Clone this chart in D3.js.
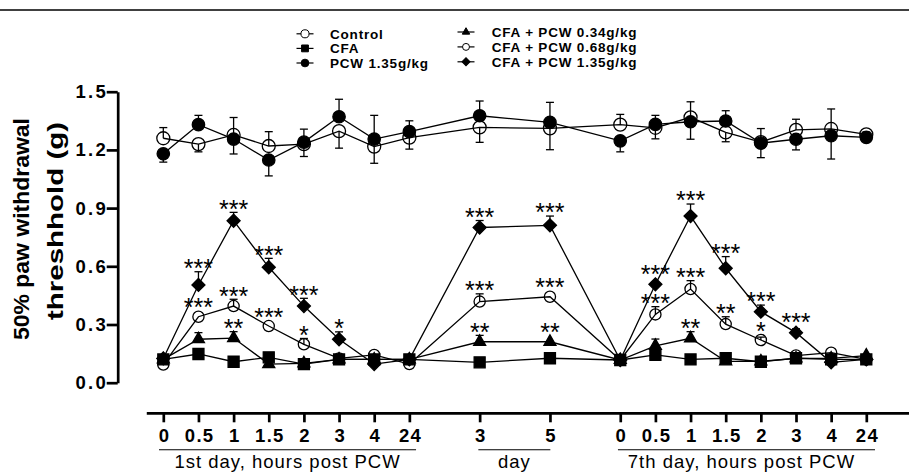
<!DOCTYPE html>
<html>
<head>
<meta charset="utf-8">
<script src="https://cdn.jsdelivr.net/npm/d3@7"></script>
<style>
body { margin: 0; background: #fff; }
text { font-family: "Liberation Sans", Arial, sans-serif; fill: #000; }
</style>
</head>
<body>
<svg id="chart" width="909" height="473"></svg>
<script>
// x categories: tick labels and their slot on the x axis (gaps between groups)
const tickLabels = ['0', '0.5', '1', '1.5', '2', '3', '4', '24', '3', '5', '0', '0.5', '1', '1.5', '2', '3', '4', '24'];
const tickSlots = [0, 1, 2, 3, 4, 5, 6, 7, 9, 11, 13, 14, 15, 16, 17, 18, 19, 20];

const groupLabels = ['1st day, hours post PCW', 'day', '7th day, hours post PCW'];
const groupFrom = [0, 9, 13];
const groupTo = [7, 11, 20];

const yTicks = [0, 0.3, 0.6, 0.9, 1.2, 1.5];

const seriesNames = ['Control', 'CFA', 'PCW 1.35g/kg', 'CFA + PCW 0.34g/kg', 'CFA + PCW 0.68g/kg', 'CFA + PCW 1.35g/kg'];

// means, SEM and side of the error bar (1 = up, -1 = down)
const controlMean = [1.26, 1.23, 1.277, 1.22, 1.23, 1.297, 1.217, 1.263, 1.316, 1.311, 1.33, 1.314, 1.368, 1.29, 1.24, 1.303, 1.308, 1.28];
const controlErr  = [0.055, 0.04, 0.09, 0.074, 0.064, 0.088, 0.086, 0.059, 0.077, 0.11, 0.053, 0.057, 0.08, 0.048, 0.07, 0.055, 0.103, 0.012];
const controlSide = [1, -1, 1, 1, -1, -1, -1, -1, -1, -1, 1, -1, 1, -1, 1, 1, 1, 1];

const cfaMean = [0.12, 0.148, 0.108, 0.131, 0.096, 0.12, 0.12, 0.12, 0.105, 0.126, 0.117, 0.143, 0.12, 0.126, 0.108, 0.126, 0.12, 0.12];
const cfaErr  = [0, 0, 0, 0, 0, 0, 0, 0, 0, 0, 0, 0, 0, 0, 0, 0, 0, 0];

const pcwMean = [1.18, 1.33, 1.256, 1.148, 1.24, 1.371, 1.256, 1.294, 1.376, 1.342, 1.247, 1.332, 1.345, 1.349, 1.235, 1.255, 1.273, 1.265];
const pcwErr  = [0.043, 0.048, 0.077, 0.082, 0.067, 0.09, 0.122, 0.056, 0.076, 0.103, 0.057, 0.046, 0.09, 0.053, 0.075, 0.055, 0.12, 0.02];
const pcwSide = [-1, 1, -1, -1, 1, 1, 1, 1, 1, 1, -1, 1, -1, 1, -1, -1, -1, -1];

const low034Mean = [0.12, 0.224, 0.23, 0.096, 0.1, 0.12, 0.12, 0.12, 0.211, 0.211, 0.117, 0.19, 0.229, 0.11, 0.11, 0.125, 0.125, 0.14];
const low034Err  = [0, 0.034, 0.033, 0, 0, 0, 0, 0, 0.033, 0, 0, 0.035, 0.034, 0, 0, 0, 0, 0];

const low068Mean = [0.094, 0.34, 0.395, 0.292, 0.198, 0.125, 0.143, 0.096, 0.418, 0.443, 0.117, 0.352, 0.483, 0.302, 0.22, 0.14, 0.155, 0.12];
const low068Err  = [0, 0, 0.035, 0, 0.03, 0, 0, 0, 0.04, 0, 0, 0.04, 0.043, 0.038, 0.015, 0, 0, 0];

const low135Mean = [0.125, 0.504, 0.835, 0.595, 0.395, 0.224, 0.096, 0.12, 0.8, 0.811, 0.117, 0.507, 0.859, 0.59, 0.366, 0.258, 0.105, 0.12];
const low135Err  = [0, 0.068, 0.043, 0.046, 0.04, 0.038, 0, 0, 0.036, 0.048, 0, 0, 0.062, 0.06, 0.034, 0.02, 0, 0];

// significance marks
const stars034 = ['', '', '**', '', '', '', '', '', '**', '**', '', '', '**', '', '', '', '', ''];
const stars068 = ['', '***', '***', '***', '*', '', '', '', '***', '***', '', '***', '***', '**', '*', '', '', ''];
const stars135 = ['', '***', '***', '***', '***', '*', '', '', '***', '***', '', '***', '***', '***', '***', '***', '', ''];

const svg = d3.select('#chart');
const width = +svg.attr('width');

const x = d3.scaleLinear().domain([0, 20]).range([163.3, 866.3]);
const y = d3.scaleLinear().domain([0, 1.5]).range([382.7, 91.7]);

const series = [
	{ name: seriesNames[0], mean: controlMean, err: controlErr, side: controlSide, shape: 'circle', filled: false, size: 6.5, stars: null },
	{ name: seriesNames[1], mean: cfaMean, err: cfaErr, side: null, shape: 'square', filled: true, size: 11, stars: null },
	{ name: seriesNames[2], mean: pcwMean, err: pcwErr, side: pcwSide, shape: 'circle', filled: true, size: 6.2, stars: null },
	{ name: seriesNames[3], mean: low034Mean, err: low034Err, side: null, shape: 'triangle', filled: true, size: 12, stars: stars034 },
	{ name: seriesNames[4], mean: low068Mean, err: low068Err, side: null, shape: 'circle', filled: false, size: 5.6, stars: stars068 },
	{ name: seriesNames[5], mean: low135Mean, err: low135Err, side: null, shape: 'diamond', filled: true, size: 13, stars: stars135 }
];

// marker path + rotation for a shape of a given size
const markerPath = (shape, size) => {
	if (shape === 'circle') return d3.symbol(d3.symbolCircle, Math.PI * size * size)();
	if (shape === 'square') return d3.symbol(d3.symbolSquare, size * size)();
	if (shape === 'triangle') return d3.symbol(d3.symbolTriangle, Math.sqrt(3) / 4 * size * size)();
	// diamond: square turned 45 degrees, size = diagonal
	return d3.symbol(d3.symbolSquare, size * size / 2)();
};
const markerRotate = shape => shape === 'diamond' ? ' rotate(45)' : '';
const markerHalf = s => s.shape === 'circle' ? s.size : s.size / 2;

// top rule
svg.append('line')
	.attr('x1', 0).attr('x2', width)
	.attr('y1', 10).attr('y2', 10)
	.attr('stroke', '#000').attr('stroke-width', 1.6);

// legend
const legendX = [305, 466];
const legendTextX = [330, 491.7];
const legendTop = [38.6, 36.8];
const legendStep = [14.6, 14.9];
const legend = svg.append('g').attr('class', 'legend');
series.forEach((s, i) => {
	const col = i < 3 ? 0 : 1;
	const row = i % 3;
	const base = legendTop[col] + row * legendStep[col];
	const cy = base - 4.8;
	legend.append('line')
		.attr('x1', legendX[col] - 8.5).attr('x2', legendX[col] + 8.5)
		.attr('y1', cy).attr('y2', cy)
		.attr('stroke', '#000').attr('stroke-width', 1.2);
	legend.append('path')
		.attr('d', markerPath(s.shape, s.size * 0.62))
		.attr('transform', `translate(${legendX[col]},${cy})${markerRotate(s.shape)}`)
		.attr('fill', s.filled ? '#000' : '#fff')
		.attr('stroke', '#000').attr('stroke-width', 1);
	legend.append('text')
		.attr('x', legendTextX[col]).attr('y', base)
		.attr('font-size', 13.5).attr('font-weight', 'bold')
		.attr('letter-spacing', 0.8)
		.text(s.name);
});

// y axis
const yAxis = d3.axisLeft(y)
	.tickValues(yTicks)
	.tickFormat(d3.format('.1f'))
	.tickSize(11)
	.tickSizeOuter(0)
	.tickPadding(1);
const yAxisG = svg.append('g')
	.attr('class', 'y-axis')
	.attr('transform', 'translate(117.7,0)')
	.call(yAxis);
yAxisG.selectAll('path, line').attr('stroke', '#000').attr('stroke-width', 2.7);
yAxisG.selectAll('text')
	.attr('font-family', '"Liberation Sans", Arial, sans-serif')
	.attr('font-size', 18.5).attr('font-weight', 'bold')
	.attr('letter-spacing', 2.2)
	.attr('dx', 2.2)
	.attr('fill', '#000');

// y axis title
const yTitle = svg.append('g').attr('class', 'axis-label');
yTitle.append('text')
	.attr('transform', 'translate(29,229) rotate(-90)')
	.attr('text-anchor', 'middle')
	.attr('font-size', 22.5).attr('font-weight', 'bold')
	.attr('textLength', 222).attr('lengthAdjust', 'spacingAndGlyphs')
	.text('50% paw withdrawal');
yTitle.append('text')
	.attr('transform', 'translate(63,221) rotate(-90)')
	.attr('text-anchor', 'middle')
	.attr('font-size', 22.5).attr('font-weight', 'bold')
	.attr('textLength', 198).attr('lengthAdjust', 'spacingAndGlyphs')
	.text('threshhold (g)');

// x axis
const xAxis = d3.axisBottom(x)
	.tickValues(tickSlots)
	.tickFormat((d, i) => tickLabels[i])
	.tickSize(9)
	.tickSizeOuter(0)
	.tickPadding(6.6);
const xAxisG = svg.append('g')
	.attr('class', 'x-axis')
	.attr('transform', 'translate(0,413.3)')
	.call(xAxis);
xAxisG.select('.domain').remove();
xAxisG.append('line')
	.attr('x1', x(-0.47)).attr('x2', width)
	.attr('stroke', '#000').attr('stroke-width', 2.7);
xAxisG.selectAll('.tick line').attr('stroke', '#000').attr('stroke-width', 2.7);
xAxisG.selectAll('text')
	.attr('font-family', '"Liberation Sans", Arial, sans-serif')
	.attr('font-size', 18.5).attr('font-weight', 'bold')
	.attr('letter-spacing', 1.3)
	.attr('dx', 0.65)
	.attr('fill', '#000');

// group underlines and captions
const groupPadL = [-4.3, -1.3, -2.3];
const groupPadR = [6.7, 0.4, 8.7];
const groups = svg.append('g').attr('class', 'groups');
groupLabels.forEach((g, i) => {
	const x1 = x(groupFrom[i]) + groupPadL[i];
	const x2 = x(groupTo[i]) + groupPadR[i];
	groups.append('line')
		.attr('x1', x1).attr('x2', x2)
		.attr('y1', 449.7).attr('y2', 449.7)
		.attr('stroke', '#000').attr('stroke-width', 1.1);
	groups.append('text')
		.attr('x', (x1 + x2) / 2 + (i === 2 ? -5 : 0)).attr('y', 468)
		.attr('text-anchor', 'middle')
		.attr('font-size', 18.5)
		.attr('letter-spacing', 1)
		.text(g);
});

// data
const plot = svg.append('g').attr('class', 'plot');
const line = d3.line()
	.x((d, i) => x(tickSlots[i]))
	.y(d => y(d));

series.forEach(s => {
	plot.append('path')
		.datum(s.mean)
		.attr('d', line)
		.attr('fill', 'none')
		.attr('stroke', '#000')
		.attr('stroke-width', 1.3);
});

series.forEach(s => {
	const eb = plot.append('g').attr('class', 'errbars');
	s.mean.forEach((v, i) => {
		if (!s.err[i]) return;
		const dir = s.side ? s.side[i] : 1;
		const cx = x(tickSlots[i]);
		const yEnd = y(v + dir * s.err[i]);
		eb.append('line')
			.attr('x1', cx).attr('x2', cx)
			.attr('y1', y(v)).attr('y2', yEnd)
			.attr('stroke', '#000').attr('stroke-width', 1.3);
		eb.append('line')
			.attr('x1', cx - 4).attr('x2', cx + 4)
			.attr('y1', yEnd).attr('y2', yEnd)
			.attr('stroke', '#000').attr('stroke-width', 1.3);
	});
});

series.forEach(s => {
	plot.append('g')
		.selectAll('path')
		.data(s.mean)
		.enter().append('path')
			.attr('d', markerPath(s.shape, s.size))
			.attr('transform', (d, i) => `translate(${x(tickSlots[i])},${y(d)})${markerRotate(s.shape)}`)
			.attr('fill', s.filled ? '#000' : 'none')
			.attr('stroke', '#000')
			.attr('stroke-width', 1.3);
});

// stars above the marks
series.filter(s => s.stars).forEach(s => {
	plot.append('g')
		.selectAll('text')
		.data(s.mean)
		.enter().append('text')
			.attr('x', (d, i) => x(tickSlots[i]))
			.attr('y', (d, i) => {
				const top = Math.min(y(d) - markerHalf(s), y(d + s.err[i]));
				return top + 5.3;
			})
			.attr('text-anchor', 'middle')
			.attr('font-size', 25)
			.text((d, i) => s.stars[i]);
});
</script>
</body>
</html>
